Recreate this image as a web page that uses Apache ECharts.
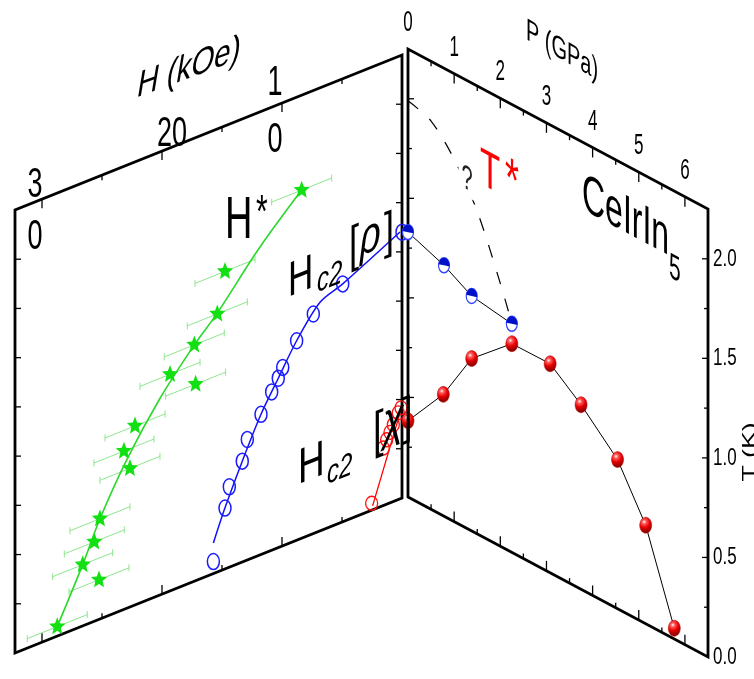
<!DOCTYPE html>
<html>
<head>
<meta charset="utf-8">
<script src="https://cdn.jsdelivr.net/npm/echarts@6/dist/echarts.min.js"></script>
<style>
  html, body { margin: 0; padding: 0; background: #fff; }
  #chart { width: 754px; height: 679px; }
</style>
</head>
<body>
<div id="chart"></div>
<script>
// ---------- Pressure panel: P (GPa) vs T (K) ----------
const pressureTc = [[0, 0.383], [0.765, 0.61], [1.38, 0.866], [2.25, 1.048], [3.08, 1.05],
                    [3.75, 0.927], [4.54, 0.749], [5.15, 0.495], [5.77, 0.054]];
const pressureTrho = [[0, 1.33], [0.78, 1.26], [1.38, 1.18], [2.25, 1.148]];
const tStarCurve = [[0, 1.99], [0.5, 1.95], [1.0, 1.82], [1.5, 1.62], [2.0, 1.32], [2.25, 1.15]];
const pTickValues = [0, 1, 2, 3, 4, 5, 6];
const pTickLabels = ['0', '1', '2', '3', '4', '5', '6'];
const tTickValues = [0, 0.5, 1, 1.5, 2];
const tTickLabels = ['0.0', '0.5', '1.0', '1.5', '2.0'];

// ---------- Field panel: H (kOe) vs T (K) ----------
const hStar = [[8.36, 1.768], [14.75, 1.511], [15.39, 1.311], [17.31, 1.20], [19.33, 1.10],
               [17.2, 0.998], [22.25, 0.909], [23.17, 0.804], [22.67, 0.704], [25.17, 0.509],
               [25.64, 0.403], [26.61, 0.311], [25.25, 0.201], [28.73, 0.048]];
const hStarErr = [2.5, 2.5, 2.5, 2.5, 2.5, 2.5, 2.5, 2.5, 2.5, 2.5, 2.5, 2.5, 2.5, 2.5];
const hStarFit = [[8.36, 1.768], [11.92, 1.558], [15.44, 1.312], [17.31, 1.20], [20.21, 0.995],
                  [22.92, 0.756], [25.17, 0.509], [26.61, 0.311], [28.73, 0.048]];
const hc2Rho = [[15.72, 0.061], [14.75, 0.309], [14.39, 0.408], [13.31, 0.512], [12.89, 0.612],
                [11.75, 0.712], [10.86, 0.804], [10.31, 0.860], [9.94, 0.906], [8.78, 1.013],
                [7.39, 1.115], [4.94, 1.208], [0, 1.35]];
const hc2RhoFit = [[15.72, 0.155], [14.75, 0.31], [13.31, 0.512], [11.75, 0.712], [10.31, 0.86],
                   [8.78, 1.013], [6.83, 1.161], [4.94, 1.208], [0.17, 1.355]];
const hc2Chi = [[2.53, 0.035], [1.56, 0.292], [1.28, 0.327], [1.0, 0.358], [0.725, 0.39],
                [0.31, 0.44], [0.08, 0.46]];
const hc2ChiFit = [[2.45, 0.02], [0.03, 0.46]];
const hTickValues = [30, 30, 20, 10, 10];
const hTickLabels = ['3', '0', '20', '1', '0'];

// ---------- layout ----------
const P_MAX = 6.5, T_MAX = 2.25, H_MAX = 32.25;
const K_RIGHT = 160 / 300;   // pressure panel edges fall to the right
const K_LEFT = 155 / 387;    // field panel edges rise to the right
const hLabelOffsets = [[-7, -14], [-7, 38], [10, -17], [-7, -20], [-7, 37]];
const FAMILY = "'Liberation Sans', Arial, sans-serif";

function font(size, italic) { return (italic ? 'italic ' : '') + size + 'px ' + FAMILY; }

function label(text, x, y, size, opt) {
  opt = opt || {};
  const al = opt.align || 'left';
  const el = {
    type: 'text', x: x, y: y, z: 20,
    style: { text: text, x: 0, y: 0, font: font(size, opt.italic), fill: opt.color || '#000',
             textAlign: al, align: al, textVerticalAlign: 'middle', verticalAlign: 'middle' }
  };
  if (opt.bg) { el.style.backgroundColor = opt.bg; el.style.padding = [0, 3]; }
  if (opt.sy) el.scaleY = opt.sy;
  return el;
}

// 2x2 singular value decomposition, M = Rot(phi) * diag(s1, s2) * Rot(theta)
function svd2(a, b, c, d) {
  const E = (a + d) / 2, F = (a - d) / 2, G = (c + b) / 2, H = (c - b) / 2;
  const Q = Math.hypot(E, H), R = Math.hypot(F, G);
  const a1 = Math.atan2(G, F), a2 = Math.atan2(H, E);
  return { phi: (a2 + a1) / 2, theta: (a2 - a1) / 2, s1: Q + R, s2: Q - R };
}
// group whose children are drawn through the linear map [[a,b],[c,d]] anchored at (x, y)
function mapped(x, y, M, children) {
  const s = svd2(M[0], M[1], M[2], M[3]);
  return { type: 'group', x: x, y: y, rotation: -s.phi, scaleX: s.s1, scaleY: s.s2, z: 20,
           children: [{ type: 'group', rotation: -s.theta, z: 20, children: children }] };
}

function seg(x1, y1, x2, y2, stroke, w) {
  return { type: 'line', shape: { x1: x1, y1: y1, x2: x2, y2: y2 },
           style: { stroke: stroke || '#000', lineWidth: w || 1.3 } };
}

function shearRight(api, v) {
  const p = api.coord(v);
  const xr = api.coord([P_MAX, 0])[0];
  return [p[0], p[1] - K_RIGHT * (xr - p[0])];
}
function shearLeft(api, v) {
  const p = api.coord(v);
  const xl = api.coord([H_MAX, 0])[0];
  return [p[0], p[1] - K_LEFT * (p[0] - xl)];
}

function starPoints(cx, cy, R, r, sy) {
  const pts = [];
  for (let i = 0; i < 10; i++) {
    const a = -Math.PI / 2 + i * Math.PI / 5, rad = i % 2 ? r : R;
    pts.push([cx + rad * Math.cos(a), cy + rad * Math.sin(a) * sy]);
  }
  return pts;
}

// ---------- frames ----------
function renderRightFrame(params, api) {
  const S = v => shearRight(api, v);
  const kids = [];
  kids.push({ type: 'polygon', shape: { points: [S([0, 0]), S([P_MAX, 0]), S([P_MAX, T_MAX]), S([0, T_MAX])] },
              style: { fill: 'none', stroke: '#000', lineWidth: 2.8 } });
  for (let i = 1; i < P_MAX * 2; i++) {
    const p = i / 2, len = i % 2 === 0 ? 10 : 5;
    const t = S([p, T_MAX]), b = S([p, 0]);
    kids.push(seg(t[0], t[1], t[0], t[1] + len), seg(b[0], b[1], b[0], b[1] - len));
  }
  for (let i = 1; i < T_MAX * 4; i++) {
    const t = i / 4, len = i % 2 === 0 ? 6 : 4;
    const r = S([P_MAX, t]), l = S([0, t]);
    kids.push(seg(r[0], r[1], r[0] - len, r[1]), seg(l[0], l[1], l[0] + len, l[1]));
  }
  pTickValues.forEach((p, i) => {
    const t = S([p, T_MAX]);
    kids.push(label(pTickLabels[i], t[0], t[1] - 26, 17, { align: 'center', sy: 1.75 }));
  });
  tTickValues.forEach((v, i) => {
    const r = S([P_MAX, v]);
    kids.push(label(tTickLabels[i], r[0] + 5, r[1], 17, { sy: 1.45 }));
  });
  return { type: 'group', children: kids };
}

function renderLeftFrame(params, api) {
  const S = v => shearLeft(api, v);
  const kids = [];
  kids.push({ type: 'polygon', shape: { points: [S([H_MAX, 0]), S([0, 0]), S([0, T_MAX]), S([H_MAX, T_MAX])] },
              style: { fill: 'none', stroke: '#000', lineWidth: 2.8 } });
  for (let h = 5; h <= 30; h += 5) {
    const len = h % 10 === 0 ? 9 : 5;
    const t = S([h, T_MAX]), b = S([h, 0]);
    kids.push(seg(t[0], t[1], t[0], t[1] + len), seg(b[0], b[1], b[0], b[1] - len));
  }
  for (let i = 1; i < T_MAX * 4; i++) {
    const t = i / 4;
    const l = S([H_MAX, t]), r = S([0, t]);
    kids.push(seg(l[0], l[1], l[0] + 6, l[1]), seg(r[0], r[1], r[0] - 6, r[1]));
  }
  hTickValues.forEach((h, i) => {
    const t = S([h, T_MAX]);
    kids.push(label(hTickLabels[i], t[0] + hLabelOffsets[i][0], t[1] + hLabelOffsets[i][1], 27,
                    { align: 'center', sy: 1.6 }));
  });
  return { type: 'group', children: kids };
}

// ---------- lines drawn through the data ----------
function curveSeries(name, data, axis, stroke, width, smooth, dash) {
  const shear = axis === 0 ? shearRight : shearLeft;
  return {
    type: 'custom', name: name, coordinateSystem: 'cartesian2d', xAxisIndex: axis, yAxisIndex: axis,
    data: [data[0]],
    renderItem: (params, api) => ({
      type: 'polyline',
      shape: { points: data.map(d => shear(api, d)), smooth: smooth },
      style: { fill: 'none', stroke: stroke, lineWidth: width, lineDash: dash || null }
    })
  };
}

const sphereFill = new echarts.graphic.RadialGradient(0.38, 0.3, 0.75, [
  { offset: 0, color: '#ffffff' }, { offset: 0.22, color: '#ff5a5a' },
  { offset: 0.6, color: '#e80000' }, { offset: 1, color: '#9a0000' }
]);

const option = {
  animation: false,
  backgroundColor: '#fff',
  grid: [
    { left: 408, top: 209, width: 300, height: 448 },
    { left: 15, top: 210, width: 387, height: 443 }
  ],
  xAxis: [
    { gridIndex: 0, type: 'value', min: 0, max: P_MAX, show: false },
    { gridIndex: 1, type: 'value', min: 0, max: H_MAX, inverse: true, show: false }
  ],
  yAxis: [
    { gridIndex: 0, type: 'value', min: 0, max: T_MAX, show: false },
    { gridIndex: 1, type: 'value', min: 0, max: T_MAX, show: false }
  ],
  series: [
    { type: 'custom', name: 'P frame', coordinateSystem: 'cartesian2d', xAxisIndex: 0, yAxisIndex: 0,
      data: [[0, 0]], renderItem: renderRightFrame },
    { type: 'custom', name: 'H frame', coordinateSystem: 'cartesian2d', xAxisIndex: 1, yAxisIndex: 1,
      data: [[0, 0]], renderItem: renderLeftFrame },
    { type: 'custom', name: 'H* error', coordinateSystem: 'cartesian2d', xAxisIndex: 1, yAxisIndex: 1,
      data: hStar.map((d, i) => [d[0], d[1], hStarErr[i]]),
      renderItem: (params, api) => {
        const h = api.value(0), t = api.value(1), e = api.value(2);
        const a = shearLeft(api, [h - e, t]), b = shearLeft(api, [h + e, t]);
        const c = '#8fe68f';
        return { type: 'group', children: [
          seg(a[0], a[1], b[0], b[1], c, 1),
          seg(a[0], a[1] - 3.5, a[0], a[1] + 3.5, c, 1),
          seg(b[0], b[1] - 3.5, b[0], b[1] + 3.5, c, 1)
        ] };
      } },
    curveSeries('H* fit', hStarFit, 1, '#2ad82a', 1.6, 0.35),
    curveSeries('Hc2 rho fit', hc2RhoFit, 1, '#1010ff', 1.5, 0.3),
    curveSeries('Hc2 chi fit', hc2ChiFit, 1, '#ff0000', 1.3, 0),
    { type: 'custom', name: 'H*', coordinateSystem: 'cartesian2d', xAxisIndex: 1, yAxisIndex: 1,
      data: hStar,
      renderItem: (params, api) => {
        const p = shearLeft(api, [api.value(0), api.value(1)]);
        return { type: 'polygon', shape: { points: starPoints(p[0], p[1], 8.5, 3.8, 1.1) },
                 style: { fill: '#12e012' } };
      } },
    { type: 'custom', name: 'Hc2 rho', coordinateSystem: 'cartesian2d', xAxisIndex: 1, yAxisIndex: 1,
      data: hc2Rho,
      renderItem: (params, api) => {
        const p = shearLeft(api, [api.value(0), api.value(1)]);
        return { type: 'ellipse', shape: { cx: p[0], cy: p[1], rx: 6, ry: 8 },
                 style: { fill: 'none', stroke: '#1a1aff', lineWidth: 1.5 } };
      } },
    { type: 'custom', name: 'Hc2 chi', coordinateSystem: 'cartesian2d', xAxisIndex: 1, yAxisIndex: 1,
      data: hc2Chi,
      renderItem: (params, api) => {
        const p = shearLeft(api, [api.value(0), api.value(1)]);
        return { type: 'ellipse', shape: { cx: p[0], cy: p[1], rx: 6, ry: 7 },
                 style: { fill: 'none', stroke: '#ff1010', lineWidth: 1.3 } };
      } },
    curveSeries('T*', tStarCurve, 0, '#000', 1.2, 0.3, [13, 15]),
    curveSeries('Tc line', pressureTc, 0, '#000', 1, 0),
    curveSeries('Trho line', pressureTrho, 0, '#000', 1, 0),
    { type: 'custom', name: 'Tc', coordinateSystem: 'cartesian2d', xAxisIndex: 0, yAxisIndex: 0,
      data: pressureTc,
      renderItem: (params, api) => {
        const p = shearRight(api, [api.value(0), api.value(1)]);
        return { type: 'ellipse', shape: { cx: p[0], cy: p[1], rx: 6, ry: 8 },
                 style: { fill: sphereFill, stroke: '#b00000', lineWidth: 0.5 } };
      } },
    { type: 'custom', name: 'Trho', coordinateSystem: 'cartesian2d', xAxisIndex: 0, yAxisIndex: 0,
      data: pressureTrho,
      renderItem: (params, api) => {
        const p = shearRight(api, [api.value(0), api.value(1)]);
        return { type: 'group', x: p[0], y: p[1], scaleY: 1.35, children: [
          { type: 'circle', shape: { cx: 0, cy: 0, r: 5.5 }, style: { fill: '#fff', stroke: '#3344ff', lineWidth: 1.2 } },
          { type: 'sector', shape: { cx: 0, cy: 0, r0: 0, r: 5.5, startAngle: -Math.PI * 0.95, endAngle: Math.PI * 0.05, clockwise: true },
            style: { fill: '#0010c8' } }
        ] };
      } }
  ],
  graphic: {
    elements: [
      mapped(189, 68, [0.92, -0.2, -0.34, 1.2], [label('H (kOe)', 0, 0, 32, { align: 'center' })]),
      mapped(562, 51, [1, 0, 0.57, 1.55], [label('P (GPa)', 0, 0, 20, { align: 'center' })]),
      mapped(750, 452, [0, 1, -1.4, 0], [label('T (K)', 0, 0, 19, { align: 'center' })]),
      mapped(225, 221.5, [1, 0, 0, 1.57], [label('H', 0, 0, 38), label('*', 31, -5, 30)]),
      mapped(288, 283.4, [1, 0, -0.4, 1.4], [
        label('H', 0, 0, 35), label('c2', 29, 8, 24, { italic: true }),
        label('[', 61, -7, 36), label('ρ', 72, -9, 36, { italic: true }), label(']', 96, -7, 36)]),
      mapped(298, 470.4, [1, 0, -0.4, 1.35], [
        label('H', 0, 0, 37), label('c2', 29, 12, 24, { italic: true }),
        label('[', 75, -4, 38), label('χ', 85, -8, 38, { italic: true }), label(']', 104, -6, 38)]),
      mapped(582, 193.9, [1, 0, 0.533, 1.7], [label('CeIrIn', 0, 0, 32), label('5', 87, 15.5, 21)]),
      mapped(480, 168.7, [1, 0, 0.533, 1.6], [
        label('T', 0, 0, 33, { color: '#ff0000' }), label('*', 25, -2, 36, { color: '#ff0000' })]),
      mapped(467, 180, [1, 0, 0.533, 1.7], [label('?', 0, 0, 20, { align: 'center', color: '#222', bg: '#fff' })])
    ]
  }
};

const chart = echarts.init(document.getElementById('chart'), null, { renderer: 'canvas' });
chart.setOption(option);
</script>
</body>
</html>
